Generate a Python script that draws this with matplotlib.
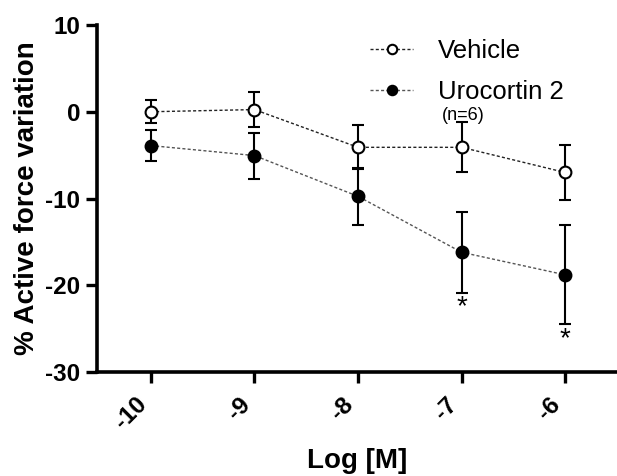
import matplotlib
matplotlib.use("Agg")
import matplotlib.pyplot as plt
import matplotlib.transforms as mtransforms

plt.rcParams['font.family'] = ['Liberation Sans', 'DejaVu Sans']

log_conc = [-10, -9, -8, -7, -6]
vehicle_mean = [0.0, 0.25, -4.1, -4.1, -7.0]
vehicle_err = [1.35, 2.0, 2.55, 2.9, 3.15]
uro_mean = [-3.9, -5.05, -9.75, -16.2, -18.8]
uro_err = [1.75, 2.65, 3.3, 4.7, 5.7]
star_x = [-7, -6]
star_y = [-21.9, -25.7]
x_ticks = [-10, -9, -8, -7, -6]
y_ticks = [10, 0, -10, -20, -30]

fig = plt.figure(figsize=(6.17, 4.76), dpi=100)
ax = fig.add_axes([97/617, 1-372/476, 1-97/617, (372-25)/476])

# error bars
ax.errorbar(log_conc, vehicle_mean, yerr=vehicle_err, fmt='none', ecolor='black',
            elinewidth=1.5, capsize=4.5, capthick=1.5, zorder=2)
ax.errorbar(log_conc, uro_mean, yerr=uro_err, fmt='none', ecolor='black',
            elinewidth=1.5, capsize=4.5, capthick=1.5, zorder=2)

ax.plot(log_conc, vehicle_mean, linestyle=(0, (2.2, 1.6)), color='#222222', lw=1.0,
        marker='o', markersize=8.5, markerfacecolor='white', markeredgecolor='black',
        markeredgewidth=1.5, label='Vehicle', zorder=3)
ax.plot(log_conc, uro_mean, linestyle=(0, (2.2, 1.6)), color='#555555', lw=1.0,
        marker='o', markersize=8.5, markerfacecolor='black', markeredgecolor='black',
        markeredgewidth=1.5, label='Urocortin 2', zorder=3)

star_off = mtransforms.ScaledTranslation(0, -12/100, fig.dpi_scale_trans)
for sx, sy in zip(star_x, star_y):
    ax.text(sx, sy, '*', ha='center', va='baseline', fontsize=20, color='black',
            transform=ax.transData + star_off)

ax.set_xlim(-10.52, -5.5)
ax.set_ylim(-30, 10)
ax.set_xticks(x_ticks)
ax.set_yticks(y_ticks)
ax.set_xticklabels([str(v) for v in x_ticks], rotation=45, ha='right',
                   fontsize=17.5, fontweight='bold')
ax.set_yticklabels([str(v) for v in y_ticks], fontsize=17.5, fontweight='bold')
offset = mtransforms.ScaledTranslation(6/100, 0, fig.dpi_scale_trans)
for lab in ax.get_xticklabels():
    lab.set_transform(lab.get_transform() + offset)

for s in ['top', 'right']:
    ax.spines[s].set_visible(False)
for s in ['left', 'bottom']:
    ax.spines[s].set_linewidth(2.6)
ax.tick_params(axis='both', width=2.4, length=8, color='black')
ax.tick_params(axis='x', pad=7)
ax.tick_params(axis='y', pad=4)

ax.set_ylabel('% Active force variation', fontsize=20, fontweight='bold', labelpad=4)
ax.set_xlabel('Log [M]', fontsize=20, fontweight='bold', labelpad=10)

leg = ax.legend(loc='upper left', bbox_to_anchor=(370/617, 1-39/476),
                bbox_transform=fig.transFigure, frameon=False, fontsize=18.5,
                handlelength=1.68, handletextpad=0.98, labelspacing=0.65,
                borderaxespad=0, borderpad=0, markerscale=0.8)

fig.text(442/617, 1-115/476, '(n=6)', fontsize=13, ha='left', va='center')

fig.savefig('out.png', dpi=100)
